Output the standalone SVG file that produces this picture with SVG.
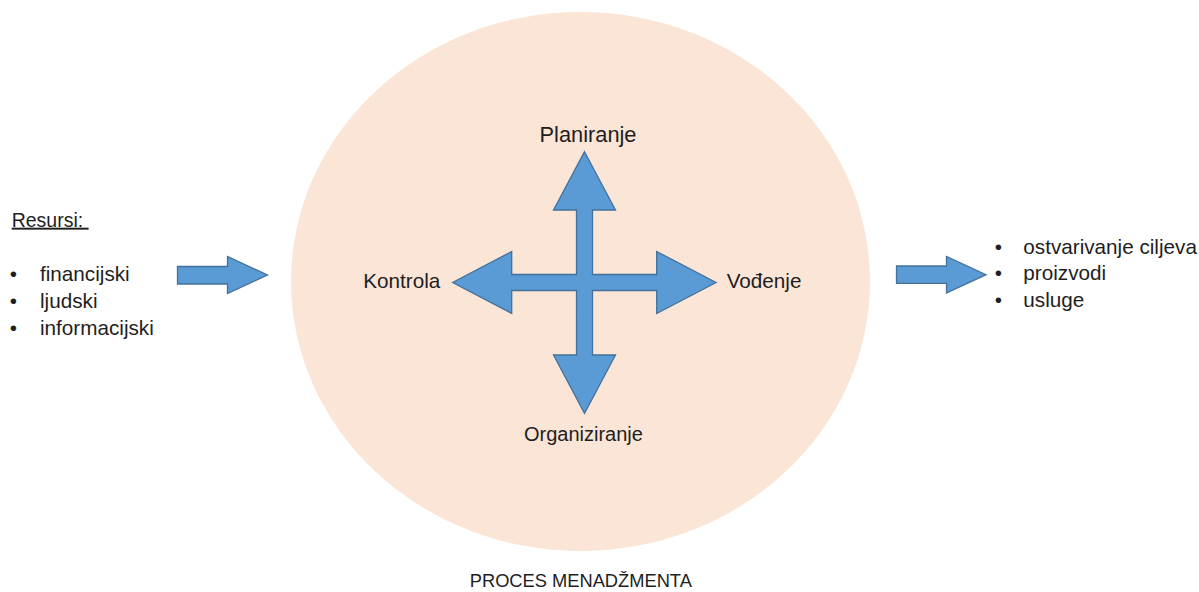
<svg xmlns="http://www.w3.org/2000/svg" width="1199" height="592" viewBox="0 0 1199 592">
<style>
text{font-family:"Liberation Sans",Arial,sans-serif;fill:#1e1e1e}
.t{font-size:20.7px}
.arr{fill:#5b9bd5;stroke:#41719c;stroke-width:1.3;stroke-linejoin:miter}
</style>
<rect width="1199" height="592" fill="#ffffff"/>
<g id="proces">
<ellipse cx="580.5" cy="281.5" rx="289.5" ry="269.5" fill="#fbe5d6"/>
<text x="580.8" y="587.3" style="font-size:18.3px" text-anchor="middle">PROCES MENADŽMENTA</text>
</g>
<g id="resursi">
<text x="11.7" y="226.7" style="font-size:19.5px" text-decoration="underline" xml:space="preserve">Resursi: </text>
<text class="t" x="9.7" y="281">•</text>
<text class="t" x="40" y="281">financijski</text>
<text class="t" x="9.7" y="308.3">•</text>
<text class="t" x="40" y="308.3">ljudski</text>
<text class="t" x="9.7" y="335">•</text>
<text class="t" x="40" y="335">informacijski</text>
</g>
<g id="rezultati">
<text class="t" x="994.7" y="253.5">•</text>
<text class="t" x="1023.3" y="253.5">ostvarivanje ciljeva</text>
<text class="t" x="994.7" y="280.3">•</text>
<text class="t" x="1023.3" y="280.3">proizvodi</text>
<text class="t" x="994.7" y="307">•</text>
<text class="t" x="1023.3" y="307">usluge</text>
</g>
<g id="funkcije">
<polygon class="arr" points="584.5,151.7 615.5,210 592.5,210 592.5,274.5 656.7,274.5 656.7,251.5 716,282.5 656.7,313.5 656.7,290.5 592.5,290.5 592.5,355 615.5,355 584.5,413.3 553.5,355 576.5,355 576.5,290.5 511.7,290.5 511.7,313.5 452.7,282.5 511.7,251.5 511.7,274.5 576.5,274.5 576.5,210 553.5,210"/>
</g>
<g id="planiranje"><text x="588" y="141.7" style="font-size:21.8px" text-anchor="middle">Planiranje</text></g>
<g id="organiziranje"><text x="583.4" y="441" style="font-size:20px" text-anchor="middle">Organiziranje</text></g>
<g id="kontrola"><text class="t" x="363.3" y="288.3">Kontrola</text></g>
<g id="vodjenje"><text class="t" x="726.7" y="288.3">Vođenje</text></g>
<g id="connectors">
<polygon class="arr" points="177.5,266.5 227.5,266.5 227.5,256.5 267.5,275 227.5,293.5 227.5,284 177.5,284"/>
<polygon class="arr" points="896.5,266 946.5,266 946.5,256.5 986,274.7 946.5,293 946.5,283.3 896.5,283.3"/>
</g>
</svg>
